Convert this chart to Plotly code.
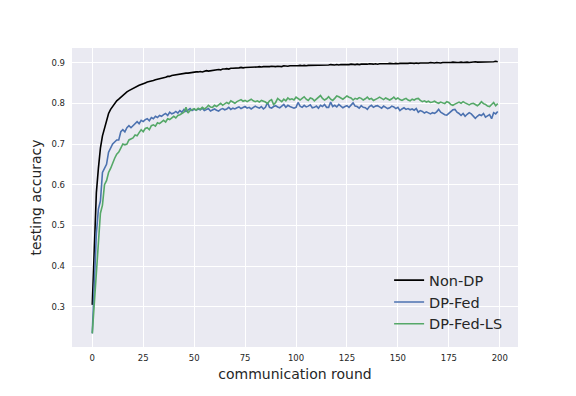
import plotly.graph_objects as go

rounds = list(range(200))

non_dp = [
    0.305, 0.47, 0.58, 0.64, 0.69, 0.72, 0.74, 0.76, 0.775, 0.785,
    0.792, 0.80, 0.806, 0.81, 0.815, 0.82, 0.824, 0.828, 0.831, 0.834,
    0.837, 0.84, 0.842, 0.844, 0.846, 0.849, 0.850, 0.852, 0.853, 0.855,
    0.856, 0.858, 0.859, 0.861, 0.862, 0.863, 0.864, 0.866, 0.866, 0.868,
    0.869, 0.870, 0.871, 0.871, 0.872, 0.873, 0.874, 0.874, 0.875, 0.876,
    0.876, 0.877, 0.877, 0.878, 0.877, 0.879, 0.880, 0.879, 0.880, 0.881,
    0.881, 0.882, 0.883, 0.882, 0.884, 0.884, 0.885, 0.884, 0.886, 0.886,
    0.886, 0.887, 0.887, 0.888, 0.887, 0.888, 0.888, 0.889, 0.888, 0.889,
    0.889, 0.889, 0.890, 0.889, 0.890, 0.890, 0.889, 0.890, 0.891, 0.890,
    0.890, 0.891, 0.891, 0.890, 0.892, 0.891, 0.891, 0.892, 0.892, 0.891,
    0.892, 0.892, 0.893, 0.892, 0.893, 0.892, 0.893, 0.893, 0.894, 0.893,
    0.893, 0.894, 0.893, 0.894, 0.894, 0.893, 0.894, 0.895, 0.894, 0.894,
    0.895, 0.894, 0.895, 0.895, 0.894, 0.895, 0.895, 0.896, 0.895, 0.895,
    0.896, 0.895, 0.896, 0.896, 0.895, 0.896, 0.897, 0.896, 0.896, 0.897,
    0.896, 0.897, 0.897, 0.896, 0.897, 0.897, 0.898, 0.897, 0.897, 0.898,
    0.897, 0.898, 0.898, 0.897, 0.898, 0.898, 0.899, 0.898, 0.898, 0.899,
    0.898, 0.899, 0.899, 0.898, 0.899, 0.899, 0.900, 0.899, 0.899, 0.900,
    0.899, 0.899, 0.900, 0.900, 0.899, 0.900, 0.900, 0.901, 0.900, 0.900,
    0.900, 0.901, 0.900, 0.901, 0.901, 0.900, 0.901, 0.901, 0.902, 0.901,
    0.901, 0.902, 0.901, 0.902, 0.902, 0.901, 0.902, 0.902, 0.903, 0.902,
]

dp_fed = [
    0.235, 0.36, 0.48, 0.54, 0.56, 0.63, 0.64, 0.65, 0.68, 0.69,
    0.70, 0.705, 0.71, 0.71, 0.73, 0.735, 0.73, 0.74, 0.745, 0.74,
    0.745, 0.75, 0.755, 0.75, 0.758, 0.755, 0.76, 0.762, 0.757, 0.765,
    0.762, 0.768, 0.765, 0.77, 0.768, 0.772, 0.775, 0.77, 0.778, 0.774,
    0.776, 0.78, 0.776, 0.782, 0.778, 0.785, 0.78, 0.783, 0.787, 0.782,
    0.785, 0.783, 0.786, 0.784, 0.788, 0.782, 0.785, 0.787, 0.781, 0.784,
    0.786, 0.783, 0.781, 0.785, 0.787, 0.784, 0.786, 0.79, 0.785, 0.788,
    0.786, 0.789, 0.791, 0.787, 0.79, 0.792, 0.788, 0.79, 0.786, 0.789,
    0.793, 0.79, 0.788, 0.792, 0.786, 0.79, 0.802, 0.79, 0.788, 0.792,
    0.794, 0.791, 0.789, 0.793, 0.797, 0.79, 0.795, 0.792, 0.79, 0.788,
    0.79, 0.802, 0.793, 0.79, 0.795, 0.791, 0.793, 0.796, 0.789, 0.79,
    0.793, 0.788, 0.795, 0.792, 0.797, 0.79, 0.79, 0.803, 0.792, 0.795,
    0.791, 0.797, 0.793, 0.789, 0.792, 0.794, 0.79, 0.795, 0.801, 0.793,
    0.792, 0.788, 0.794, 0.79, 0.789, 0.785, 0.792, 0.795, 0.79, 0.793,
    0.794, 0.791, 0.788, 0.793, 0.79, 0.787, 0.789, 0.793, 0.791, 0.787,
    0.79, 0.782, 0.786, 0.789, 0.785, 0.787, 0.784, 0.786, 0.783, 0.787,
    0.778, 0.782, 0.78, 0.776, 0.779, 0.776, 0.774, 0.777, 0.775, 0.779,
    0.785, 0.778, 0.774, 0.772, 0.771, 0.776, 0.78, 0.784, 0.785, 0.778,
    0.775, 0.77, 0.775, 0.768, 0.773, 0.777, 0.774, 0.768, 0.763, 0.768,
    0.772, 0.77, 0.775, 0.766, 0.77, 0.772, 0.762, 0.777, 0.774, 0.78,
]

dp_fed_ls = [
    0.235, 0.31, 0.40, 0.47, 0.53, 0.55, 0.60, 0.61, 0.63, 0.64,
    0.655, 0.665, 0.675, 0.68, 0.69, 0.70, 0.698, 0.70, 0.71, 0.712,
    0.715, 0.722, 0.72, 0.728, 0.735, 0.73, 0.738, 0.74, 0.735, 0.745,
    0.747, 0.744, 0.752, 0.75, 0.755, 0.758, 0.754, 0.762, 0.76, 0.765,
    0.768, 0.764, 0.77, 0.772, 0.775, 0.778, 0.79, 0.776, 0.782, 0.785,
    0.787, 0.783, 0.788, 0.785, 0.79, 0.786, 0.789, 0.795, 0.791, 0.79,
    0.795, 0.792, 0.797, 0.8, 0.795, 0.798, 0.802, 0.799, 0.806, 0.803,
    0.8, 0.804, 0.806, 0.809, 0.805, 0.807, 0.804, 0.807, 0.81, 0.806,
    0.804, 0.806, 0.803, 0.807, 0.805, 0.803, 0.799, 0.806, 0.809, 0.797,
    0.802, 0.812, 0.808, 0.804, 0.81, 0.806, 0.813, 0.809, 0.811, 0.808,
    0.815, 0.811, 0.808, 0.812, 0.816, 0.81, 0.807, 0.813, 0.811, 0.806,
    0.81, 0.814, 0.819, 0.812, 0.808, 0.811, 0.816, 0.81, 0.807, 0.812,
    0.818, 0.816, 0.812, 0.81, 0.814, 0.818, 0.815, 0.813, 0.808, 0.812,
    0.81, 0.814, 0.812, 0.808, 0.811, 0.815, 0.81, 0.812, 0.807, 0.809,
    0.812, 0.815, 0.811, 0.809, 0.813, 0.81, 0.808, 0.811, 0.815, 0.81,
    0.813, 0.809, 0.807, 0.81, 0.812, 0.808, 0.806, 0.81, 0.808, 0.811,
    0.812, 0.807, 0.804, 0.806, 0.803, 0.805, 0.802, 0.803, 0.805, 0.802,
    0.8, 0.803, 0.801, 0.799, 0.804, 0.802, 0.797, 0.795, 0.798, 0.801,
    0.803, 0.8, 0.804, 0.801, 0.798, 0.796, 0.799, 0.8, 0.797, 0.794,
    0.798, 0.804, 0.799, 0.797, 0.793, 0.792, 0.797, 0.802, 0.794, 0.799,
]

x_ticks = [0, 25, 50, 75, 100, 125, 150, 175, 200]
y_ticks = [0.3, 0.4, 0.5, 0.6, 0.7, 0.8, 0.9]

fig = go.Figure()
fig.add_trace(go.Scatter(x=rounds, y=non_dp, mode="lines", name="Non-DP",
                         line=dict(color="#000000", width=1.6)))
fig.add_trace(go.Scatter(x=rounds, y=dp_fed, mode="lines", name="DP-Fed",
                         line=dict(color="#4C72B0", width=1.6)))
fig.add_trace(go.Scatter(x=rounds, y=dp_fed_ls, mode="lines", name="DP-Fed-LS",
                         line=dict(color="#55A868", width=1.6)))

axis_common = dict(showgrid=True, gridcolor="white", gridwidth=1, zeroline=False,
                   showline=False, ticks="", automargin=False,
                   tickfont=dict(size=8.5, color="#262626"),
                   title_font=dict(size=14, color="#262626"))

# the page body has an 8px margin, so the margins are shifted to compensate
fig.update_layout(
    width=576, height=396,
    margin=dict(l=64, r=66, t=40, b=57),
    paper_bgcolor="white", plot_bgcolor="#EAEAF2",
    font=dict(family="DejaVu Sans", color="#262626"),
    xaxis=dict(range=[-9.95, 208.95], tickvals=x_ticks, title_text="communication round",
               title_standoff=7, ticklabelstandoff=4, **axis_common),
    yaxis=dict(range=[0.2016, 0.9357], tickvals=y_ticks, tickformat=".1f",
               title_text="testing accuracy", title_standoff=6, ticklabelstandoff=6,
               **axis_common),
    legend=dict(x=0.711, y=0.277, xanchor="left", yanchor="top", bgcolor="rgba(0,0,0,0)",
                font=dict(size=14.5, color="#262626"), tracegroupgap=0),
    showlegend=True,
)

fig.write_html("out.html")
